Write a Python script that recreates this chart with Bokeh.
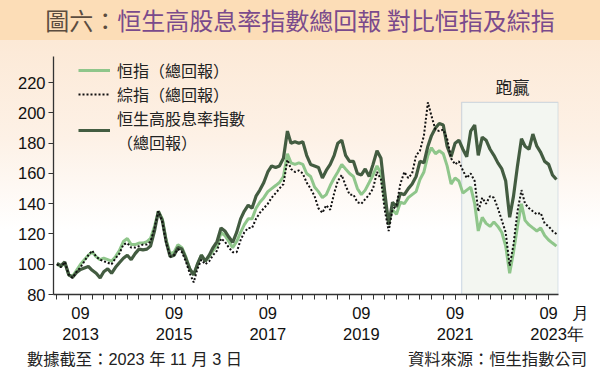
import pandas as pd
from bokeh.plotting import figure
from bokeh.models import (Range1d, FixedTicker, BoxAnnotation, Label, Legend,
                          LegendItem, Div, ColumnDataSource)
from bokeh.layouts import column
from bokeh.embed import file_html
from bokeh.resources import INLINE

# ---------------- data (monthly, rebased to 100) ----------------
months = pd.date_range("2013-03-01", "2023-11-01", freq="MS")

hsi_tr = [
    100, 98.5, 101, 93, 92, 96, 100, 103, 106, 108, 105, 103,
    104, 103, 102, 105, 109, 115, 117, 113, 113, 114, 114, 115,
    117, 125, 135, 130, 116, 107, 108, 113, 111, 105, 97, 93,
    100, 106, 102, 105, 109, 112, 121, 119, 115, 111, 115, 121,
    126, 130, 130, 137, 141, 144, 148, 150, 152, 154, 158, 173,
    167, 166, 167, 166, 160, 158, 151, 148, 144, 146, 152, 157,
    161, 166, 163, 160, 158, 150, 146, 149, 154, 159, 165, 160,
    142, 129, 136, 133, 141, 140, 144, 146, 148, 156, 161, 172,
    177, 173, 175, 173, 165, 153, 157, 155, 147, 149, 151, 140,
    122, 131, 127, 125, 128, 125, 121, 112, 94, 108, 125, 140,
    129, 126, 124, 122, 124, 119, 116, 114, 112,
]

composite_tr = [
    100, 98, 101.5, 93, 91, 95, 98, 102, 106, 109, 105, 103,
    102, 101, 100, 104, 107, 113, 114, 111, 111, 112, 113, 113,
    115, 124, 135, 128, 114, 105, 106, 110, 108, 102, 94, 88,
    97, 103, 100, 102, 106, 109, 117, 115, 111, 108, 108, 116,
    121, 124, 124, 130, 134, 137, 140, 144, 147, 150, 153, 169,
    163, 161, 162, 160, 154, 150, 145, 137, 134, 139, 136, 147,
    155, 159, 152, 146, 146, 141, 140, 143, 146, 150, 161, 156,
    136, 122, 136, 139, 153, 161, 157, 160, 172, 175, 185, 207,
    198, 189, 188, 189, 183, 170, 166, 168, 162, 157, 160, 155,
    135, 144, 140, 145, 144, 137, 129, 121, 99, 113, 135, 149,
    140, 137, 135, 133, 134, 127, 125, 122, 120,
]

high_div_tr = [
    100.5, 99, 101.5, 93, 91.5, 94.5, 96.5, 97.5, 98.5, 96, 94, 91,
    95, 97, 94, 98, 101, 104, 106, 103, 107, 110, 109.5, 110,
    112, 122, 135, 129, 115, 105, 106, 111, 110, 104, 97, 93,
    100, 106, 102, 106, 111, 115, 124, 122, 118, 114.5, 121, 130,
    135, 139, 137, 145, 149, 154, 161, 165, 164, 165, 170, 188,
    180, 181, 180, 181, 172, 166, 165, 164, 157, 162, 166, 172,
    180, 182, 172, 168, 168, 160, 159, 163, 158, 166, 175, 170,
    148, 126, 141, 138, 147, 146, 150, 153, 158, 168, 167, 178,
    185, 190, 193, 192, 178, 171, 180, 182, 176, 171, 188, 192,
    172, 184, 182, 176, 172, 167, 163, 155, 131, 145, 165, 183,
    178, 176, 186, 178, 174, 168, 166, 159, 156,
]

series_names = ["恒指（總回報）", "綜指（總回報）", "恒生高股息率指數\n（總回報）"]
y_ticks = [80, 100, 120, 140, 160, 180, 200, 220]
x_label_dates = ["2013-09-01", "2015-09-01", "2017-09-01", "2019-09-01",
                 "2021-09-01", "2023-09-01"]
NB = "\u00a0"
x_tick_labels = ["09\n2013", "09\n2015", "09\n2017", "09\n2019", "09\n2021",
                 "\u3000" + NB * 3 + "09" + NB * 3 + "月\n\u30002023年"]
outperform_start = "2021-10-22"
outperform_top = 207
outperform_text = "跑贏"

title_lead = "圖六："
title_main = "恒生高股息率指數總回報 對比恒指及綜指"
footer_left = "數據截至：2023 年 11 月 3 日"
footer_right = "資料來源：恒生指數公司"


def ms(d):
    return pd.Timestamp(d).timestamp() * 1000.0


x_start = ms("2013-02-02")
x_end = ms("2023-11-17")

# page-pixel layout of the frame (1.513 px per index point)
FL, FR, FT, FB = 53, 558, 56, 294
PX_PER_UNIT = 233 / 154
Y0 = 80
Y1 = Y0 + (FB - FT) / PX_PER_UNIT
TITLE_H = 40
FIG_BOTTOM = 346


def px_x(px):
    return x_start + (px - FL) / (FR - FL) * (x_end - x_start)


def px_y(py):
    return Y0 + (FB - py) / (FB - FT) * (Y1 - Y0)


src = ColumnDataSource(dict(date=months, hsi=hsi_tr, comp=composite_tr, hdy=high_div_tr))

title_div = Div(
    text=(
        '<div style="width:600px;height:40px;line-height:40px;text-align:center;'
        'background:#fcddb7;font-family:\'Noto Sans CJK TC\';font-size:24px;white-space:nowrap;">'
        f'<span style="color:#5b4c3f;">{title_lead}</span>'
        f'<span style="color:#7a4a8c;">{title_main}</span></div>'
    ),
    width=600, height=TITLE_H, margin=0,
)

footer_div = Div(
    text=(
        '<div style="position:relative;width:600px;height:30px;background:#ffffff;'
        'font-family:\'Liberation Sans\',\'Noto Sans CJK TC\';font-size:16.3px;color:#222;'
        'white-space:nowrap;">'
        f'<span style="position:absolute;left:27px;top:2px;line-height:22px;">{footer_left}</span>'
        f'<span style="position:absolute;right:13px;top:2px;line-height:22px;">{footer_right}</span>'
        '</div>'
    ),
    width=600, height=376 - FIG_BOTTOM, margin=0,
)

p = figure(width=600, height=FIG_BOTTOM - TITLE_H, x_axis_type="datetime",
           x_range=Range1d(x_start, x_end), y_range=Range1d(Y0, Y1),
           output_backend="svg", toolbar_location=None,
           min_border_left=FL, min_border_right=600 - FR,
           min_border_top=FT - TITLE_H, min_border_bottom=FIG_BOTTOM - FB, margin=0)
p.styles = {"background": "linear-gradient(#fce9d6 0%, #fdf1e6 32%, #ffffff 62%)"}
p.background_fill_alpha = 0
p.border_fill_alpha = 0
p.outline_line_color = None
p.xgrid.visible = False
p.ygrid.visible = False

# outperform box
box = BoxAnnotation(left=ms(outperform_start), right=x_end - 2 * 86400000, bottom=Y0,
                    top=outperform_top, fill_color="#f3f6f1", fill_alpha=1,
                    line_color="#7d9dc0", line_width=1.3, level="underlay")
p.add_layout(box)

r_l = p.line("date", "hsi", source=src, line_color="#8fc68b", line_width=3)
r_h = p.line("date", "hdy", source=src, line_color="#435c41", line_width=3.2)
r_c = p.line("date", "comp", source=src, line_color="#111111", line_width=2,
             line_dash="2 2")

# axes
ax = p.yaxis[0]
ax.ticker = FixedTicker(ticks=y_ticks)
ax.axis_line_color = "#333333"
ax.axis_line_width = 1.3
ax.major_tick_line_color = "#333333"
ax.major_tick_out = 5
ax.major_tick_in = 0
ax.minor_tick_line_color = None
ax.major_label_text_font = "Liberation Sans"
ax.major_label_text_font_size = "16.5px"
ax.major_label_text_color = "#111111"
ax.major_label_standoff = 3

xa = p.xaxis[0]
quarters = [ms(d) for d in pd.date_range("2013-03-01", "2023-09-01", freq="QS-MAR")]
label_ticks = [ms(d) for d in x_label_dates]
xa.ticker = FixedTicker(ticks=label_ticks, minor_ticks=quarters)
xa.major_label_overrides = {t: lab for t, lab in zip(label_ticks, x_tick_labels)}
xa.axis_line_color = "#333333"
xa.axis_line_width = 1.3
xa.major_tick_line_color = "#333333"
xa.minor_tick_line_color = "#333333"
xa.major_tick_out = 5
xa.major_tick_in = 0
xa.minor_tick_out = 5
xa.minor_tick_in = 0
xa.major_label_text_font = "Liberation Sans"
xa.major_label_text_font_size = "16.5px"
xa.major_label_text_color = "#111111"
xa.major_label_standoff = 4

legend = Legend(items=[LegendItem(label=series_names[0], renderers=[r_l]),
                       LegendItem(label=series_names[1], renderers=[r_c]),
                       LegendItem(label=series_names[2], renderers=[r_h])],
                location=(25, 140), glyph_width=32, glyph_height=20, label_height=20,
                label_standoff=7, spacing=0, padding=0, margin=0,
                background_fill_alpha=0, border_line_color=None,
                label_text_font="Noto Sans CJK TC", label_text_font_size="16px",
                label_text_color="#222222")
p.add_layout(legend)

p.add_layout(Label(x=px_x(512), y=px_y(86), text=outperform_text, text_align="center",
                   text_baseline="middle", text_font="Noto Sans CJK TC",
                   text_font_size="17px", text_color="#222222"))

layout = column(title_div, p, footer_div, spacing=0, margin=0)
open("out.html", "w").write(file_html(layout, INLINE))
